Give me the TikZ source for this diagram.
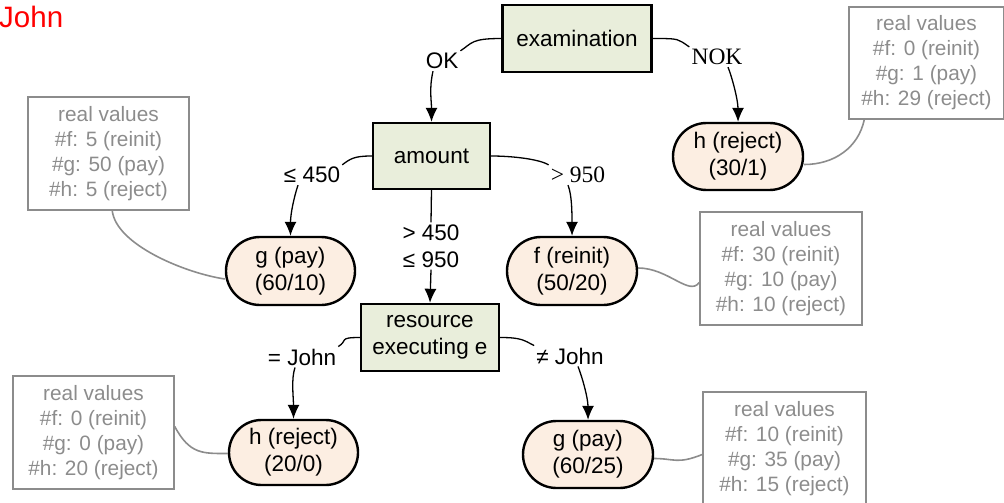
\documentclass[tikz,border=0pt]{standalone}
\usepackage{fontspec}
\setmainfont{Liberation Sans}
\newfontfamily\tms{Liberation Serif}
\usetikzlibrary{arrows.meta,shapes.misc}
\definecolor{decfill}{HTML}{E9EEDB}
\definecolor{leaffill}{HTML}{FCEEE2}
\definecolor{rvgray}{HTML}{8C8C8C}
\begin{document}
\begin{tikzpicture}[x=1pt,y=-1pt,
 decision/.style={draw, line width=2.4pt, fill=decfill, align=center, font=\fontsize{22.5}{27}\selectfont, inner sep=0pt},
 leaf/.style={rounded rectangle, draw, line width=2.4pt, fill=leaffill, align=center, font=\fontsize{22.5}{27}\selectfont, inner sep=0pt, minimum width=130pt, minimum height=67pt},
 realbox/.style={draw=rvgray, line width=1.5pt, text=rvgray, align=center, font=\fontsize{20.8}{25}\selectfont, inner sep=0pt},
 lbl/.style={font=\fontsize{22.5}{27}\selectfont, inner sep=2pt, align=center},
 arr/.style={line width=1.3pt, -{Latex[length=14pt,width=12pt]}},
 seg/.style={line width=1.3pt},
 link/.style={draw=rvgray, line width=1.6pt}
]
\useasboundingbox (0,0) rectangle (1004,503);

\node[anchor=base west, text=red, font=\fontsize{29.5}{33}\selectfont, inner sep=0pt] (title) at (-1,28) {John};

% decision nodes
\node[decision, minimum width=149pt, minimum height=67pt] (exam) at (577,38.5) {examination};
\node[decision, minimum width=117pt, minimum height=66pt] (amount) at (431.5,156) {amount};
\node[decision, minimum width=138pt, minimum height=67pt] (res) at (430,337.5) {resource\\executing e};

% leaves
\node[leaf] (h1) at (738,156.5) {h (reject)\\(30/1)};
\node[leaf, minimum width=129pt, minimum height=68pt] (g1) at (290.5,271) {g (pay)\\(60/10)};
\node[leaf, minimum height=68pt] (f1) at (572,271) {f (reinit)\\(50/20)};
\node[leaf, minimum width=129pt, minimum height=65pt] (h2) at (293.5,452.5) {h (reject)\\(20/0)};
\node[leaf] (g2) at (588,454.5) {g (pay)\\(60/25)};

% real value boxes
\node[realbox, minimum width=155pt, minimum height=112pt] (rv1) at (926.5,63) {real values\\\#f: 0 (reinit)\\\#g: 1 (pay)\\\#h: 29 (reject)};
\node[realbox, minimum width=161pt, minimum height=113pt] (rv2) at (108.5,153.5) {real values\\\#f: 5 (reinit)\\\#g: 50 (pay)\\\#h: 5 (reject)};
\node[realbox, minimum width=162pt, minimum height=113pt] (rv3) at (781,268.5) {real values\\\#f: 30 (reinit)\\\#g: 10 (pay)\\\#h: 10 (reject)};
\node[realbox, minimum width=161pt, minimum height=113pt] (rv4) at (93.5,432.5) {real values\\\#f: 0 (reinit)\\\#g: 0 (pay)\\\#h: 20 (reject)};
\node[realbox, minimum width=163pt, minimum height=113pt] (rv5) at (784.5,448.5) {real values\\\#f: 10 (reinit)\\\#g: 35 (pay)\\\#h: 15 (reject)};

% edge labels
\node[lbl] (ok) at (442,61) {OK};
\node[lbl, font=\tms\fontsize{23.5}{27}\selectfont] (nok) at (717,57) {NOK};
\node[lbl] (le) at (312,175) {≤ 450};
\node[lbl, font=\tms\fontsize{23.5}{27}\selectfont] (gt) at (578,175) {> 950};
\node[lbl] (mid) at (431,246) {> 450\\≤ 950};
\node[lbl] (eq) at (302,357) {= John};
\node[lbl] (ne) at (570,356) {≠ John};

% edges
\draw[seg] (exam.west) .. controls +(-30,0) and +(12,-8) .. (ok.north east);
\draw[arr] ([xshift=-9pt]ok.south) .. controls +(-4,18) and +(0,-22) .. (amount.north);
\draw[seg] (exam.east) .. controls +(28,0) and +(-12,-8) .. (nok.north west);
\draw[arr] ([xshift=11pt]nok.south) .. controls +(4,10) and +(0,-22) .. (h1.north);

\draw[seg] (amount.west) .. controls +(-18,0) and +(8,-6) .. (le.north east);
\draw[arr] ([xshift=-14pt]le.south) .. controls +(-4,12) and +(0,-22) .. (g1.north);
\draw[seg] (amount.east) .. controls +(20,0) and +(-10,-6) .. (gt.north west);
\draw[arr] ([xshift=-10pt]gt.south) .. controls +(4,10) and +(0,-22) .. (f1.north);
\draw[seg] (amount.south) -- (mid.north);
\draw[arr] (mid.south) -- (res.north);

\draw[seg] (res.west) .. controls +(-22,0) and +(10,-6) .. (eq.north east);
\draw[arr] ([xshift=-7pt]eq.south) .. controls +(-4,12) and +(0,-22) .. (h2.north);
\draw[seg] (res.east) .. controls +(22,0) and +(-10,-5) .. (ne.north west);
\draw[arr] ([xshift=8pt]ne.south) .. controls +(4,10) and +(0,-22) .. (g2.north);

% grey links
\draw[link] ([xshift=16pt]rv1.south west) .. controls +(-6,28) and +(30,0) .. ([yshift=-8pt]h1.east);
\draw[link] ([xshift=85pt]rv2.south west) .. controls +(4,34) and +(-40,-6) .. ([yshift=-8pt]g1.west);
\draw[link] ([yshift=-14pt]rv3.west) .. controls +(-10,14) and +(30,0) .. ([yshift=3pt]f1.east);
\draw[link] ([yshift=6pt]rv4.east) .. controls +(15,28) and +(-25,0) .. ([yshift=-1pt]h2.west);
\draw[link] ([yshift=-6pt]rv5.west) .. controls +(-25,10) and +(20,0) .. ([yshift=-4pt]g2.east);
\end{tikzpicture}
\end{document}
